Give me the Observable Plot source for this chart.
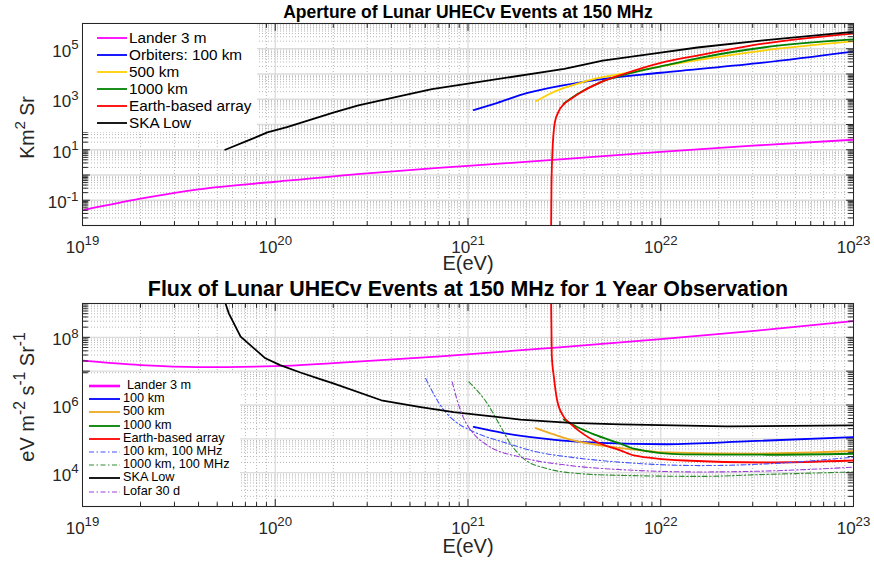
<!DOCTYPE html>
<html><head><meta charset="utf-8">
<script src="https://cdn.jsdelivr.net/npm/d3@7"></script>
<script src="https://cdn.jsdelivr.net/npm/@observablehq/plot@0.6"></script>
<style>
body{margin:0;background:#fff;font-family:"Liberation Sans",Arial,Helvetica,sans-serif;}
#wrap{position:relative;width:874px;height:565px;overflow:hidden;background:#fff;}
#wrap > svg{display:block;}
.legend{position:absolute;background:#fff;}
.legend .txt{position:absolute;white-space:nowrap;color:#000;line-height:1;font-weight:normal;}
.legend svg{position:absolute;left:0;}
</style></head><body><div id="wrap"></div>
<script>
// ---------- Aperture panel data (E in eV, aperture in km^2 sr) ----------
const apLanderE = [1e19, 2e19, 4e19, 1e20, 3e20, 7e20, 1e21, 3e21, 1e22, 3e22, 1e23];
const apLanderA = [0.040, 0.115, 0.27, 0.54, 1.17, 1.9, 2.29, 4.17, 8.3, 14.5, 25];
const apOrb100E = [1.07e21, 1.41e21, 2.04e21, 3.16e21, 4.47e21, 1e22, 3.4e22, 1e23];
const apOrb100A = [372, 708, 1780, 3630, 5620, 11200, 28200, 77600];
const apOrb500E = [2.26e21, 2.63e21, 3.02e21, 3.63e21, 4.47e21, 6.76e21, 1e22, 1.55e22, 3.4e22, 1e23];
const apOrb500A = [851, 1585, 2512, 3981, 6310, 11220, 19950, 35480, 85110, 195000];
const apOrb1000E = [3.14e21, 3.68e21, 4.86e21, 6.7e21, 1e22, 1.55e22, 3.4e22, 1e23];
const apOrb1000A = [676, 1585, 4680, 10000, 19950, 41700, 112200, 234400];
const apEarthE = [2.70e21, 2.71e21, 2.735e21, 2.82e21, 2.96e21, 3.14e21, 3.40e21, 3.84e21, 4.86e21, 6.43e21, 1e22, 1.55e22, 3.4e22, 1e23];
const apEarthA = [0.01, 0.316, 5.4, 117, 339, 631, 1000, 1860, 4680, 10000, 27500, 53700, 158500, 398000];
const apSkaE = [5.5e19, 7.8e19, 9.1e19, 1.15e20, 2.0e20, 2.7e20, 4.5e20, 6.5e20, 1e21, 3.16e21, 5.0e21, 1e22, 1.55e22, 3.4e22, 1e23];
const apSkaA = [10, 29.5, 49, 78, 295, 575, 1350, 2510, 4170, 15850, 33900, 70800, 112000, 214000, 468000];

// ---------- Flux panel data (E in eV, flux in eV m^-2 s^-1 sr^-1) ----------
const flLanderE = [1e19, 2e19, 4e19, 1e20, 2e20, 7.2e20, 2.75e21, 1e22, 3.16e22, 1e23];
const flLanderF = [2.04e7, 1.51e7, 1.32e7, 1.41e7, 1.74e7, 2.75e7, 4.9e7, 8.91e7, 1.58e8, 3.02e8];
const flOrb100E = [1.07e21, 1.53e21, 2.29e21, 3.39e21, 4.86e21, 1.08e22, 2.92e22, 1e23];
const flOrb100F = [2.24e5, 1.48e5, 1.07e5, 8.51e4, 7.59e4, 6.92e4, 8.51e4, 1.12e5];
const flOrb500E = [2.24e21, 2.79e21, 3.39e21, 4.47e21, 6.17e21, 1.08e22, 2.92e22, 1e23];
const flOrb500F = [2.09e5, 1.35e5, 9.55e4, 6.92e4, 5.37e4, 3.98e4, 3.63e4, 4.37e4];
const flOrb1000E = [3.14e21, 3.68e21, 4.5e21, 6.17e21, 7.24e21, 1.32e22, 3.55e22, 1e23];
const flOrb1000F = [3.72e5, 2.24e5, 1.35e5, 7.24e4, 5.13e4, 3.47e4, 3.39e4, 3.63e4];
const flEarthE = [2.70e21, 2.72e21, 2.79e21, 2.90e21, 3.14e21, 3.40e21, 3.84e21, 4.68e21, 6.17e21, 7.24e21, 1.32e22, 3.55e22, 1e23];
const flEarthF = [1e9, 3e7, 6.76e6, 1.38e6, 4.47e5, 2.82e5, 1.58e5, 7.94e4, 4.57e4, 3.24e4, 2.29e4, 2.0e4, 2.29e4];
const flOrb100MHzE = [6.03e20, 6.46e20, 7.08e20, 7.76e20, 8.51e20, 1.03e21, 1.26e21, 1.53e21, 2.29e21, 3.39e21, 6.17e21, 1.61e22, 3.55e22, 1e23];
const flOrb100MHzF = [6.03e6, 2.82e6, 1.12e6, 5.62e5, 3.39e5, 1.78e5, 1.12e5, 7.94e4, 4.07e4, 2.88e4, 2.04e4, 1.62e4, 1.82e4, 2.88e4];
const flOrb1000MHzE = [1.01e21, 1.26e21, 1.48e21, 1.66e21, 1.95e21, 2.57e21, 3.84e21, 6.17e21, 1.61e22, 3.55e22, 1e23];
const flOrb1000MHzF = [4.79e6, 1.1e6, 2.24e5, 7.24e4, 2.57e4, 1.32e4, 9.33e3, 8.32e3, 7.76e3, 8.91e3, 1.05e4];
const flSkaE = [5.52e19, 5.74e19, 6.61e19, 8.89e19, 1.06e20, 1.35e20, 1.68e20, 2.0e20, 3.55e20, 5.68e20, 8.43e20, 1.87e21, 3.40e21, 6.17e21, 2.21e22, 1e23];
const flSkaF = [1e9, 5.13e8, 1.05e8, 2.4e7, 1.51e7, 9.12e6, 6.03e6, 4.37e6, 1.38e6, 8.71e5, 6.17e5, 3.72e5, 2.95e5, 2.69e5, 2.34e5, 2.51e5];
const flLofarE = [8.28e20, 8.79e20, 9.51e20, 1.07e21, 1.26e21, 1.87e21, 3.40e21, 6.17e21, 1.61e22, 3.55e22, 1e23];
const flLofarF = [4.79e6, 1.38e6, 3.98e5, 1.41e5, 6.46e4, 2.88e4, 1.62e4, 1.23e4, 1.05e4, 1.12e4, 1.45e4];

// ---------- Axis ticks ----------
const xDecadeExps = [19, 20, 21, 22, 23];
const apYDecadeExps = [-2, -1, 0, 1, 2, 3, 4, 5, 6];
const apYLabelExps = [-1, 1, 3, 5];
const flYDecadeExps = [3, 4, 5, 6, 7, 8, 9];
const flYLabelExps = [4, 6, 8];
const minorMultipliers = [2, 3, 4, 5, 6, 7, 8, 9];

const titles = ["Aperture of Lunar UHECv Events at 150 MHz", "Flux of Lunar UHECv Events at 150 MHz for 1 Year Observation"];
const yLabels = ["Km^{2} Sr", "eV m^{-2} s^{-1} Sr^{-1}"];
const xLabel = "E(eV)";

const rows = (E, V) => E.map((e, i) => ({E: e, v: V[i]}));
const pow = (es) => es.map(e => Math.pow(10, e));
const minors = (es) => es.slice(0, -1).flatMap(e => minorMultipliers.map(m => m * Math.pow(10, e)));

const topSeries = [
  {label: "Lander 3 m", data: rows(apLanderE, apLanderA), color: "#ff00ff", width: 1.8},
  {label: "Orbiters: 100 km", data: rows(apOrb100E, apOrb100A), color: "#0000ff", width: 1.8},
  {label: "500 km", data: rows(apOrb500E, apOrb500A), color: "#ffd000", width: 1.8},
  {label: "1000 km", data: rows(apOrb1000E, apOrb1000A), color: "#008000", width: 1.8},
  {label: "Earth-based array", data: rows(apEarthE, apEarthA), color: "#ff0000", width: 1.8},
  {label: "SKA Low", data: rows(apSkaE, apSkaA), color: "#000000", width: 1.8, curve: "linear"}
];
const dashDot = "5,2.5,1.5,2.5";
const botSeries = [
  {label: "Lander 3 m", data: rows(flLanderE, flLanderF), color: "#ff00ff", width: 1.8, lw: 2.6, indent: 4},
  {label: "100 km", data: rows(flOrb100E, flOrb100F), color: "#0000ff", width: 1.8},
  {label: "500 km", data: rows(flOrb500E, flOrb500F), color: "#eeaa22", width: 1.8},
  {label: "1000 km", data: rows(flOrb1000E, flOrb1000F), color: "#008000", width: 1.8},
  {label: "Earth-based array", data: rows(flEarthE, flEarthF), color: "#ff0000", width: 1.8},
  {label: "100 km, 100 MHz", data: rows(flOrb100MHzE, flOrb100MHzF), color: "#4455ff", width: 1.1, dash: dashDot},
  {label: "1000 km, 100 MHz", data: rows(flOrb1000MHzE, flOrb1000MHzF), color: "#2e8b2e", width: 1.1, dash: dashDot},
  {label: "SKA Low", data: rows(flSkaE, flSkaF), color: "#000000", width: 1.8, curve: "linear"},
  {label: "Lofar 30 d", data: rows(flLofarE, flLofarF), color: "#9b3fd9", width: 1.1, dash: dashDot}
];

const axisColor = "#262626";
const fontFamily = '"Liberation Sans", Arial, Helvetica, sans-serif';
const tickShape = {draw(ctx, l) { ctx.moveTo(0, 0); ctx.lineTo(0, -l); }};
const tickMarks = (vals, dim, frameAnchor, rotate, length) =>
  Plot.vector(vals, {[dim]: d => d, frameAnchor, rotate, length, anchor: "start", shape: tickShape, stroke: axisColor, strokeWidth: 1});
const fmtExp = d => `10^{${Math.round(Math.log10(d))}}`;

function panel(o) {
  const xMaj = pow(xDecadeExps), xMin = minors(xDecadeExps);
  const yMaj = pow(o.yDecades), yMin = minors(o.yDecades);
  const marks = [
    Plot.gridX({ticks: xMin, stroke: "#b8b8b8", strokeOpacity: 1, strokeDasharray: "1,2", strokeWidth: 1}),
    Plot.gridY({ticks: yMin, stroke: "#b8b8b8", strokeOpacity: 1, strokeDasharray: "1,2", strokeWidth: 1}),
    Plot.gridX({ticks: xMaj, stroke: "#dcdcdc", strokeOpacity: 1, strokeWidth: 1.3}),
    Plot.gridY({ticks: yMaj, stroke: "#dcdcdc", strokeOpacity: 1, strokeWidth: 1.3}),
    ...o.series.map(s => Plot.line(s.data, {x: "E", y: "v", stroke: s.color, strokeWidth: s.width,
      strokeDasharray: s.dash, curve: s.curve || "monotone-x", clip: true})),
    Plot.frame({stroke: axisColor, strokeWidth: 1}),
    tickMarks(xMaj, "x", "bottom", 0, 7), tickMarks(xMin, "x", "bottom", 0, 4),
    tickMarks(xMaj, "x", "top", 180, 7), tickMarks(xMin, "x", "top", 180, 4),
    tickMarks(yMaj, "y", "left", 90, 7), tickMarks(yMin, "y", "left", 90, 5),
    tickMarks(yMaj, "y", "right", -90, 7), tickMarks(yMin, "y", "right", -90, 5),
    Plot.axisX({ticks: xMaj, tickSize: 0, tickPadding: 15, tickFormat: fmtExp, fontSize: 17, fill: axisColor, label: null}),
    Plot.axisY({ticks: pow(o.yLabels), tickSize: 0, tickPadding: 4, dy: 2.5, tickFormat: fmtExp, fontSize: 17, fill: axisColor, label: null}),
    Plot.text([o.title], {text: d => d, frameAnchor: "top", textAnchor: "middle", lineAnchor: "bottom", dy: o.titleDy, fontSize: o.titleSize, fontWeight: "bold", fill: "#000"}),
    Plot.text([xLabel], {text: d => d, frameAnchor: "bottom", textAnchor: "middle", lineAnchor: "bottom", dy: o.xLabelDy, fontSize: 20, fill: axisColor}),
    Plot.text([o.yLabel], {text: d => d, frameAnchor: "left", textAnchor: "middle", rotate: -90, lineAnchor: "bottom", dx: o.yLabelDx, dy: o.yLabelDy, fontSize: o.yLabelSize, fill: axisColor})
  ];
  return Plot.plot({
    width: 874, height: o.height, marginTop: 23, marginBottom: o.marginBottom, marginLeft: 82, marginRight: 21,
    x: {type: "log", domain: [1e19, 1e23]},
    y: {type: "log", domain: o.yDomain},
    style: {fontFamily, background: "white", color: axisColor, overflow: "visible"},
    marks
  });
}

function supify(svg) {
  const NS = "http://www.w3.org/2000/svg";
  const fs = 0.78, up = 0.55;
  svg.querySelectorAll("text").forEach(t => {
    const s = t.textContent;
    if (!s.includes("^{")) return;
    const parts = s.split(/\^\{([^}]*)\}/);
    t.textContent = "";
    let raised = false;
    parts.forEach((p, i) => {
      if (p === "") return;
      const ts = document.createElementNS(NS, "tspan");
      ts.textContent = p;
      if (i % 2 === 1) { ts.setAttribute("font-size", fs + "em"); ts.setAttribute("dy", (-up) + "em"); raised = true; }
      else if (raised) { ts.setAttribute("dy", (up * fs) + "em"); raised = false; }
      t.appendChild(ts);
    });
  });
}

function legend(items, o) {
  const div = document.createElement("div");
  div.className = "legend";
  div.style.left = o.left + "px"; div.style.top = o.top + "px";
  div.style.width = o.width + "px"; div.style.height = o.height + "px";
  items.forEach((s, i) => {
    const cy = Math.round(o.first + o.step * i);
    const svg = document.createElementNS("http://www.w3.org/2000/svg", "svg");
    svg.setAttribute("width", o.x1 + 2); svg.setAttribute("height", 10);
    svg.style.top = (cy - 5) + "px";
    const ln = document.createElementNS("http://www.w3.org/2000/svg", "line");
    ln.setAttribute("x1", o.x0); ln.setAttribute("x2", o.x1); ln.setAttribute("y1", 5); ln.setAttribute("y2", 5);
    ln.setAttribute("stroke", s.color); ln.setAttribute("stroke-width", s.lw || s.width);
    if (s.dash) ln.setAttribute("stroke-dasharray", s.dash);
    svg.appendChild(ln); div.appendChild(svg);
    const t = document.createElement("div");
    t.className = "txt"; t.textContent = s.label;
    t.style.left = (o.tx + (s.indent || 0)) + "px";
    t.style.top = Math.round(cy - o.fontSize * 0.52) + "px";
    t.style.fontSize = o.fontSize + "px";
    div.appendChild(t);
  });
  return div;
}

const wrap = document.getElementById("wrap");
const topPlot = panel({height: 280, marginBottom: 55, yDomain: [1e-2, 1e6], yDecades: apYDecadeExps, yLabels: apYLabelExps,
  series: topSeries, title: titles[0], titleSize: 17.5, titleDy: -6, xLabelDy: 44,
  yLabel: yLabels[0], yLabelDx: -49, yLabelDy: 3, yLabelSize: 19.5});
const botPlot = panel({height: 285, marginBottom: 59, yDomain: [1e3, 1e9], yDecades: flYDecadeExps, yLabels: flYLabelExps,
  series: botSeries, title: titles[1], titleSize: 21.4, titleDy: -8, xLabelDy: 46,
  yLabel: yLabels[1], yLabelDx: -49, yLabelDy: -8, yLabelSize: 20});
supify(topPlot); supify(botPlot);
wrap.appendChild(topPlot); wrap.appendChild(botPlot);
wrap.appendChild(legend(topSeries, {left: 83, top: 24, width: 174, height: 108, first: 14.3, step: 16.9, x0: 14, x1: 44, tx: 46, fontSize: 15.3}));
wrap.appendChild(legend(botSeries, {left: 83, top: 374, width: 157, height: 127, first: 12, step: 13.2, x0: 6, x1: 37, tx: 40, fontSize: 12.7}));
</script></body></html>
